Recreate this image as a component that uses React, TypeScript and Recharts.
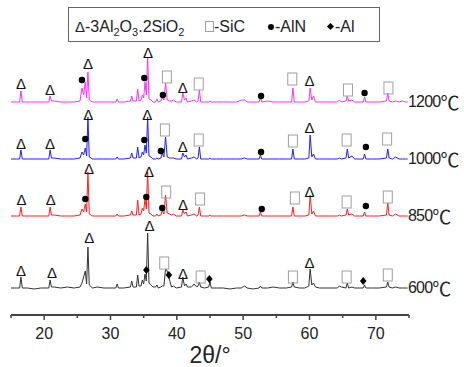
import React from 'react';
import { ComposedChart, Line, Scatter, XAxis, YAxis, Legend, Label } from 'recharts';

// ---------- data (intensity in arbitrary units) ----------
const twoTheta = [
  15.0, 15.8, 16.3, 16.5, 16.7, 17.5, 18.5, 19.5, 20.7, 20.9, 21.1, 21.5, 22.5,
  23.5, 24.5, 25.4, 25.7, 25.95, 26.2, 26.4, 26.6, 26.8, 27.3, 28.0,
  29.0, 30.0, 30.8, 31.0, 31.2, 32.0, 33.0, 33.2, 33.4,
  33.9, 34.1, 34.3, 34.6, 34.8, 35.0, 35.2, 35.4, 35.6, 35.8, 36.1, 36.4,
  36.8, 37.0, 37.2, 37.6, 37.8, 38.05, 38.3, 38.55, 38.9, 39.2, 39.5, 39.9,
  40.7, 40.9, 41.15, 41.4, 41.6, 42.2, 42.6, 43.0, 43.2, 43.4, 43.6, 44.2, 44.8, 45.0, 45.2,
  46.0, 47.0, 48.0, 49.0, 49.7, 50.2, 50.6, 51.5, 52.4, 52.6, 52.8, 53.7, 54.5, 55.5, 56.5,
  57.3, 57.5, 57.7, 58.5, 59.3, 59.9, 60.1, 60.35, 60.6, 60.9, 61.5, 62.5, 63.5,
  64.2, 64.5, 64.8, 65.5, 65.7, 65.9, 66.4, 66.8, 67.5, 68.1, 68.3, 68.5, 69.5,
  70.5, 71.6, 71.8, 72.0, 72.5, 73.0, 73.5, 74.0, 74.5, 74.8,
];

const i600 = [
  1, 1, 1, 12, 1, 1, 0, 1, 1, 9, 2, 2, 1,
  2, 1, 2, 6, 12, 18, 5, 42, 4, 1, 2,
  1, 1, 1, 5, 1, 1, 2, 8, 2,
  2, 14, 3, 3, 9, 5, 15, 8, 56, 6, 4, 2,
  2, 4, 1, 2, 3, 3, 20, 18, 9, 2, 3, 1,
  2, 12, 3, 5, 2, 2, 5, 2, 3, 7, 2, 1, 2, 7, 1,
  1, 1, 0, 1, 1, 3, 1, 0, 1, 3, 1, 1, 2, 1, 1,
  2, 7, 2, 1, 1, 3, 20, 4, 6, 2, 1, 1, 1,
  1, 3, 2, 1, 6, 1, 2, 1, 1, 1, 4, 1, 1,
  1, 2, 7, 2, 1, 2, 1, 1, 1, 1,
];

const i850 = [
  1, 1, 1, 10, 1, 1, 1, 1, 1, 10, 2, 2, 1,
  1, 1, 2, 8, 5, 13, 5, 45, 3, 1, 1,
  1, 1, 1, 3, 1, 1, 2, 6, 2,
  2, 17, 2, 3, 9, 6, 18, 8, 45, 4, 3, 1,
  1, 3, 1, 2, 7, 3, 22, 4, 3, 2, 3, 1,
  1, 7, 3, 5, 1, 2, 3, 1, 2, 10, 1, 1, 1, 2, 1,
  1, 1, 1, 1, 1, 2, 1, 1, 1, 5, 1, 1, 1, 1, 1,
  1, 10, 1, 1, 1, 2, 22, 3, 6, 1, 1, 1, 1,
  1, 2, 1, 2, 8, 2, 3, 1, 1, 1, 5, 1, 1,
  1, 2, 14, 2, 1, 3, 1, 1, 1, 1,
];

const i1000 = [
  1, 1, 1, 10, 1, 1, 1, 1, 1, 10, 2, 2, 1,
  1, 1, 2, 8, 5, 12, 4, 43, 3, 1, 1,
  1, 1, 1, 3, 1, 1, 2, 7, 2,
  2, 13, 2, 3, 8, 5, 15, 7, 43, 4, 3, 1,
  1, 2, 1, 2, 7, 3, 23, 3, 2, 2, 2, 1,
  1, 7, 3, 5, 1, 2, 3, 1, 2, 13, 1, 1, 1, 2, 1,
  1, 1, 1, 1, 1, 2, 1, 1, 1, 5, 1, 1, 1, 1, 1,
  1, 11, 1, 1, 1, 2, 25, 3, 6, 1, 1, 1, 1,
  1, 2, 1, 2, 11, 2, 4, 1, 1, 1, 6, 1, 1,
  1, 2, 11, 2, 1, 3, 1, 1, 1, 1,
];

const i1200 = [
  1, 1, 1, 12, 1, 1, 1, 1, 1, 7, 2, 2, 1,
  1, 1, 2, 15, 8, 21, 5, 31, 3, 1, 1,
  1, 1, 1, 4, 1, 1, 2, 7, 2,
  2, 14, 2, 3, 8, 5, 21, 8, 46, 4, 3, 1,
  1, 4, 1, 2, 6, 3, 20, 3, 2, 2, 3, 1,
  1, 10, 3, 5, 1, 2, 3, 1, 2, 13, 1, 1, 1, 2, 1,
  1, 1, 1, 1, 3, 3, 1, 1, 1, 6, 1, 2, 1, 1, 1,
  1, 15, 1, 1, 1, 2, 15, 3, 7, 1, 1, 1, 1,
  1, 3, 1, 2, 7, 2, 3, 1, 1, 1, 6, 1, 1,
  1, 2, 10, 2, 1, 2, 1, 2, 1, 1,
];

// vertical stacking offset of each pattern (a.u.)
const offsets = [26, 98, 155, 212];
const temperatures = ['600℃', '850℃', '1000℃', '1200℃'];
const seriesKeys = ['p600', 'p850', 'p1000', 'p1200'];

// phase marks: [pattern index, 2θ, height above that pattern's baseline]
const mulliteMarks = [
  [3, 16.5, 20], [3, 20.9, 14], [3, 26.6, 40], [3, 35.65, 51], [3, 40.9, 16], [3, 60.0, 23],
  [2, 16.5, 17], [2, 20.9, 17], [2, 26.65, 46], [2, 35.55, 46], [2, 40.9, 14], [2, 60.0, 33],
  [1, 16.6, 18], [1, 21.0, 18], [1, 26.75, 49], [1, 35.8, 46], [1, 40.95, 13], [1, 60.0, 26],
  [0, 16.5, 19], [0, 21.2, 17], [0, 26.8, 52], [0, 35.9, 64], [0, 40.95, 16], [0, 60.0, 27],
];
const sicMarks = [
  [3, 38.5, 26], [3, 43.3, 19], [3, 57.4, 24], [3, 65.8, 13], [3, 71.9, 15],
  [2, 38.2, 30], [2, 43.3, 20], [2, 57.5, 19], [2, 65.6, 20], [2, 71.7, 21],
  [1, 38.4, 25], [1, 43.5, 18], [1, 57.8, 19], [1, 65.6, 15], [1, 71.8, 20],
  [0, 38.1, 26], [0, 43.6, 12], [0, 57.5, 12], [0, 65.6, 12], [0, 71.8, 14],
];
const alnMarks = [
  [3, 25.7, 23], [3, 35.1, 25], [3, 37.9, 8], [3, 52.7, 7], [3, 68.3, 10],
  [2, 26.2, 21], [2, 35.1, 20], [2, 37.6, 9], [2, 52.7, 8], [2, 68.5, 13],
  [1, 26.2, 18], [1, 35.4, 20], [1, 37.8, 9], [1, 52.8, 8], [1, 68.5, 11],
];
const alMarks = [
  [0, 35.4, 19], [0, 38.8, 14], [0, 44.9, 10], [0, 68.1, 8],
];

const axisTicks = [15, 20, 25, 30, 35, 40, 45, 50, 55, 60, 65, 70, 75];

// ---------- derived tables ----------
const patterns = [i600, i850, i1000, i1200];
const rows = twoTheta.map((t, i) => {
  const r: Record<string, number> = { t };
  patterns.forEach((p, k) => {
    r[seriesKeys[k]] = offsets[k] + p[i];
  });
  return r;
});
const toPoints = (marks: number[][]) => marks.map(([s, t, h]) => ({ t, y: offsets[s] + h }));
const tempPoints = temperatures.map((label, k) => ({ t: 75, y: offsets[k], label }));

// ---------- styles ----------
const FONT = '"Liberation Sans", Arial, "Noto Sans CJK SC", sans-serif';
const lineColors = ['#333333', '#ff2020', '#2020ff', '#ff30ff'];

const DeltaShape = (p: any) => (
  <text x={p.cx} y={p.cy} textAnchor="middle" dominantBaseline="central" fontSize={15} fontFamily={FONT} fill="#111">Δ</text>
);
const SquareShape = (p: any) => (
  <rect x={p.cx - 4.5} y={p.cy - 6} width={9} height={12} fill="none" stroke="#a0a0a0" strokeWidth={1} />
);
const DotShape = (p: any) => <circle cx={p.cx} cy={p.cy} r={3.2} fill="#000" />;
const DiamondShape = (p: any) => (
  <path d={`M${p.cx},${p.cy - 4} L${p.cx + 3.3},${p.cy} L${p.cx},${p.cy + 4} L${p.cx - 3.3},${p.cy} Z`} fill="#000" />
);
const TempLabel = (p: any) => {
  const label: string = p.payload.label;
  const num = label.replace('℃', '');
  return (
    <text x={p.cx - 1} y={p.cy - 2} dominantBaseline="central" fontFamily={FONT} fontSize={16} fill="#222">
      <tspan letterSpacing={-0.8}>{num}</tspan>
      <tspan fontFamily='"Noto Sans CJK SC", sans-serif' fontSize={19}>℃</tspan>
    </text>
  );
};

const AxisTick = (p: any) => {
  const v = p.payload.value;
  const major = v % 10 === 0;
  return (
    <g>
      <line x1={p.x} x2={p.x} y1={p.y} y2={p.y + (major ? 5 : 3)} stroke="#444" strokeWidth={1.5} />
      {major && (
        <text x={p.x} y={p.y + 18} textAnchor="middle" dominantBaseline="central" fontSize={16} fontFamily={FONT} fill="#222">
          {v}
        </text>
      )}
    </g>
  );
};

const sub = { fontSize: 11, verticalAlign: '-4px', lineHeight: 0 } as React.CSSProperties;
const item = { position: 'absolute', top: 10, lineHeight: '18px', whiteSpace: 'nowrap' } as React.CSSProperties;

const LegendBox = () => (
  <div
    style={{
      position: 'relative', width: 312, height: 35, boxSizing: 'border-box', border: '1px solid #666',
      fontFamily: FONT, fontSize: 16, color: '#222', background: '#fff',
    }}
  >
    <span style={{ ...item, left: 6 }}>
      <span style={{ fontSize: 15 }}>Δ</span>-3Al<span style={sub}>2</span>O<span style={sub}>3</span>.2SiO<span style={sub}>2</span>
    </span>
    <span style={{ ...item, left: 136 }}>
      <span style={{ display: 'inline-block', width: 9, height: 11, boxSizing: 'border-box', border: '1px solid #a0a0a0' }} />-SiC
    </span>
    <span style={{ ...item, left: 199 }}>
      <span style={{ display: 'inline-block', width: 6, height: 6, borderRadius: 3, background: '#000', verticalAlign: '2px', marginRight: 1 }} />-AlN
    </span>
    <span style={{ ...item, left: 259 }}>
      <span style={{ display: 'inline-block', width: 5, height: 5, background: '#000', transform: 'rotate(45deg)', verticalAlign: '3px', marginRight: 2 }} />-Al
    </span>
  </div>
);

export default function App() {
  return (
    <div style={{ position: 'absolute', left: 0, top: 0, width: 464, height: 367, background: '#fff' }}>
      <ComposedChart width={464} height={367} data={rows} margin={{ top: 35, right: 55, bottom: 0, left: 11 }}>
        <XAxis
          dataKey="t"
          type="number"
          domain={[15, 75]}
          ticks={axisTicks}
          interval={0}
          tickSize={0}
          tickMargin={0}
          tickLine={false}
          axisLine={{ stroke: '#444', strokeWidth: 2 }}
          tick={(p: any) => <AxisTick {...p} />}
          height={52}
        >
          <Label value="2θ/°" position="insideBottom" offset={4} style={{ fontSize: 23, fill: '#222', fontFamily: FONT }} />
        </XAxis>
        <YAxis type="number" domain={[0, 280]} hide />
        <Legend
          layout="horizontal"
          verticalAlign="middle"
          align="center"
          wrapperStyle={{ left: 68, top: 7, width: 312, height: 35 }}
          content={() => <LegendBox />}
        />
        {seriesKeys.map((k, i) => (
          <Line key={k} type="linear" dataKey={k} stroke={lineColors[i]} strokeWidth={1} dot={false} activeDot={false} isAnimationActive={false} />
        ))}
        <Scatter data={toPoints(mulliteMarks)} dataKey="y" shape={DeltaShape} isAnimationActive={false} />
        <Scatter data={toPoints(sicMarks)} dataKey="y" shape={SquareShape} isAnimationActive={false} />
        <Scatter data={toPoints(alnMarks)} dataKey="y" shape={DotShape} isAnimationActive={false} />
        <Scatter data={toPoints(alMarks)} dataKey="y" shape={DiamondShape} isAnimationActive={false} />
        <Scatter data={tempPoints} dataKey="y" shape={TempLabel} isAnimationActive={false} />
      </ComposedChart>
    </div>
  );
}
